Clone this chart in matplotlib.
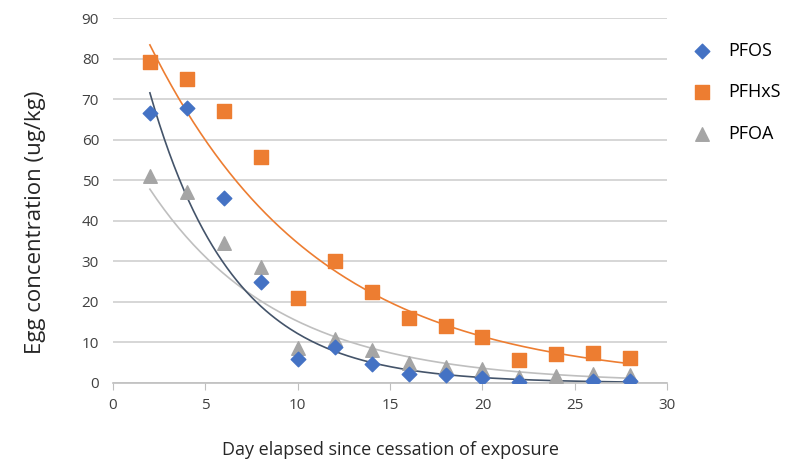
import numpy as np
import matplotlib
matplotlib.use("Agg")
import matplotlib.pyplot as plt

plt.rcParams['font.family'] = ['Open Sans', 'DejaVu Sans']

# data (no PFOS point shown at day 24)
days = [2, 4, 6, 8, 10, 12, 14, 16, 18, 20, 22, 24, 26, 28]
pfos = [66.5, 67.8, 45.6, 25.0, 6.0, 8.8, 4.7, 2.3, 2.0, 1.2, 0.3, np.nan, 0.5, 0.5]
pfhxs = [79.3, 75.0, 67.2, 55.8, 21.0, 30.0, 22.5, 16.0, 14.0, 11.4, 5.7, 7.1, 7.5, 6.2]
pfoa = [51.0, 47.0, 34.5, 28.5, 8.5, 10.8, 8.2, 5.0, 4.0, 3.5, 1.5, 1.8, 2.3, 2.0]

fig = plt.figure(figsize=(8.01, 4.67), dpi=100)
ax = fig.add_axes([0.141, 0.180, 0.692, 0.781])

xs = np.linspace(2, 28, 200)

#exponential trendlines (like excel)
def expfit(y):
    y = np.array(y, dtype=float)
    x = np.array(days, dtype=float)
    ok = ~np.isnan(y)
    b, a = np.polyfit(x[ok], np.log(y[ok]), 1)
    return np.exp(a + b * xs)

ax.plot(xs, expfit(pfhxs), color='#ED7D31', lw=1.2, zorder=2)
ax.plot(xs, expfit(pfoa), color='#BFBFBF', lw=1.2, zorder=2)
ax.plot(xs, expfit(pfos), color='#44546A', lw=1.2, zorder=2)

ax.scatter(days, pfos, marker='D', s=55, color='#4472C4', label='PFOS', zorder=4)
ax.scatter(days, pfhxs, marker='s', s=100, color='#ED7D31', label='PFHxS', zorder=3)
ax.scatter(days, pfoa, marker='^', s=95, color='#A5A5A5', label='PFOA', zorder=3)

ax.set_xlim(0, 30)
ax.set_ylim(0, 90)
ax.set_xticks(range(0, 31, 5))
ax.set_yticks(range(0, 91, 10))
ax.yaxis.grid(True, color='#D0D0D0', lw=1.2)
ax.set_axisbelow(True)
for s in ['top', 'right', 'left']:
    ax.spines[s].set_visible(False)
ax.spines['bottom'].set_color('#BFBFBF')
ax.spines['bottom'].set_linewidth(1.2)
ax.tick_params(axis='y', length=0, labelsize=11, labelcolor='#404040', pad=10)
ax.tick_params(axis='x', length=5, color='#BFBFBF', labelsize=11, labelcolor='#404040', pad=6)

ax.set_ylabel('Egg concentration (ug/kg)', fontsize=16, color='#262626')
ax.yaxis.set_label_coords(-0.12, 0.44)
ax.set_xlabel('Day elapsed since cessation of exposure', fontsize=13, color='#262626', labelpad=20)

ax.legend(loc='upper left', bbox_to_anchor=(1.0, 0.98), frameon=False, fontsize=13,
          labelspacing=1.3, handletextpad=0.5, scatterpoints=1)

fig.savefig('out.png', dpi=100)
